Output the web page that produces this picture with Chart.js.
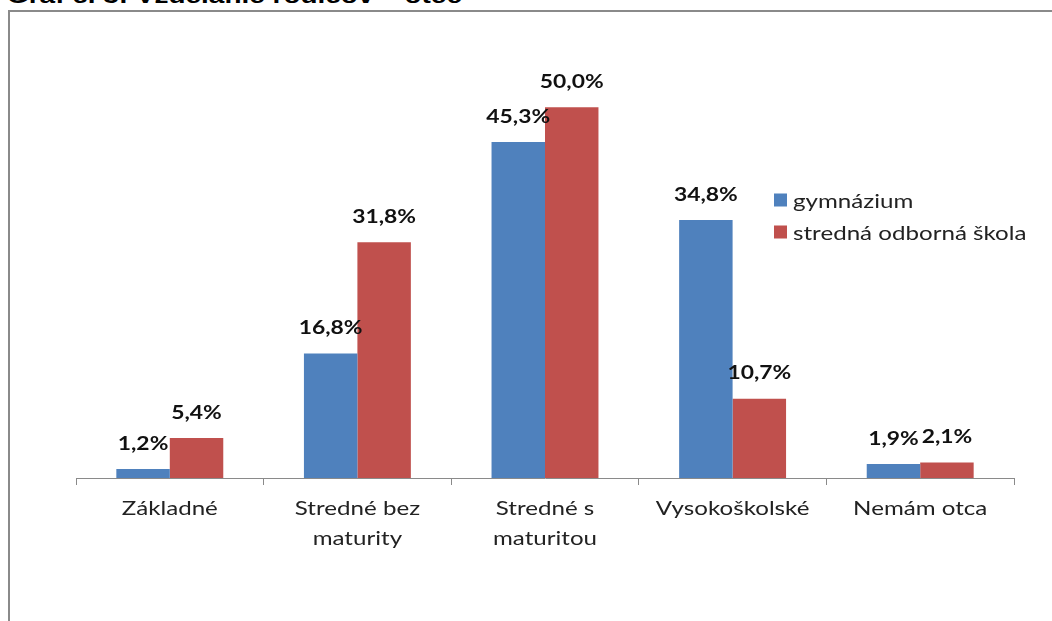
<!DOCTYPE html>
<html>
<head>
<meta charset="utf-8">
<script src="https://cdn.jsdelivr.net/npm/chart.js@4"></script>
<style>
  body { margin: 0; background: #fff; overflow: hidden; }
  #wrap { position: relative; width: 1052px; height: 621px; }
  #titre {
    position: absolute; left: 7px; top: -17px;
    font: bold 22px "Liberation Sans", Arial, sans-serif; color: #000;
    white-space: nowrap; transform: scaleX(1.27); transform-origin: 0 0;
  }
  #cadre {
    position: absolute; left: 8px; top: 10px; width: 1060px; height: 640px;
    border: 2px solid #8a8a8a; box-sizing: border-box;
  }
  canvas { position: absolute; left: 0; top: 0; }
</style>
</head>
<body>
<div id="wrap">
  <div id="titre">Graf č. 3: Vzdelanie rodičov – otec</div>
  <div id="cadre"></div>
  <canvas id="graf" width="1052" height="621"></canvas>
</div>
<script>
// Données
const categories = [["Základné"], ["Stredné bez", "maturity"], ["Stredné s", "maturitou"], ["Vysokoškolské"], ["Nemám otca"]];
const gymnazium = [1.2, 16.8, 45.3, 34.8, 1.9];
const strednaOdborna = [5.4, 31.8, 50.0, 10.7, 2.1];
const series = ["gymnázium", "stredná odborná škola"];
const couleurs = ["#4F81BD", "#C0504D"];

const police = '"Lato", "Open Sans", sans-serif';
const etirement = 1.27; // le texte de l'original est étiré horizontalement

// texte étiré horizontalement autour du point (x, y)
function texteEtire(ctx, txt, x, y, align) {
  ctx.save();
  ctx.translate(x, y);
  ctx.scale(etirement, 1);
  ctx.textAlign = align;
  ctx.fillText(txt, 0, 0);
  ctx.restore();
}

// Étiquettes de valeur au-dessus des barres
const etiquettes = {
  id: "etiquettes",
  afterDatasetsDraw(chart) {
    const ctx = chart.ctx;
    ctx.save();
    ctx.font = "bold 18px " + police;
    ctx.fillStyle = "#111";
    ctx.textBaseline = "bottom";
    chart.data.datasets.forEach((ds, i) => {
      chart.getDatasetMeta(i).data.forEach((bar, j) => {
        const txt = ds.data[j].toFixed(1).replace(".", ",") + "%";
        texteEtire(ctx, txt, bar.x, bar.y - 16, "center");
      });
    });
    ctx.restore();
  }
};

// Libellés des catégories sous l'axe
const libelles = {
  id: "libelles",
  afterDraw(chart) {
    const ctx = chart.ctx;
    const x = chart.scales.x;
    ctx.save();
    ctx.font = "19px " + police;
    ctx.fillStyle = "#222";
    ctx.textBaseline = "middle";
    chart.data.labels.forEach((lignes, i) => {
      const px = x.getPixelForValue(i);
      lignes.forEach((l, k) => texteEtire(ctx, l, px, x.top + 31 + k * 30, "center"));
    });
    ctx.restore();
  }
};

// Légende placée à droite, par-dessus la zone du graphique
const legende = {
  id: "legende",
  afterDraw(chart) {
    const ctx = chart.ctx;
    ctx.save();
    ctx.font = "19px " + police;
    ctx.textBaseline = "middle";
    chart.data.datasets.forEach((ds, i) => {
      const y = 200 + i * 32;
      ctx.fillStyle = ds.backgroundColor;
      ctx.fillRect(774, y - 6.5, 13, 13);
      ctx.fillStyle = "#222";
      texteEtire(ctx, ds.label, 793, y + 2, "left");
    });
    ctx.restore();
  }
};

new Chart(document.getElementById("graf"), {
  type: "bar",
  data: {
    labels: categories,
    datasets: [
      { label: series[0], data: gymnazium, backgroundColor: couleurs[0] },
      { label: series[1], data: strednaOdborna, backgroundColor: couleurs[1] }
    ]
  },
  options: {
    responsive: false,
    animation: false,
    categoryPercentage: 0.57,
    barPercentage: 1,
    layout: { padding: { left: 76, right: 38, top: 33, bottom: 0 } },
    plugins: {
      legend: { display: false },
      tooltip: { enabled: false }
    },
    scales: {
      y: { display: false, min: 0, max: 60 },
      x: {
        afterFit(scale) { scale.height = 143; },
        grid: { offset: true, drawOnChartArea: false, tickLength: 7, color: "#8a8a8a" },
        border: { color: "#8a8a8a", width: 1 },
        ticks: { color: "rgba(0,0,0,0)", font: { size: 19 }, maxRotation: 0 }
      }
    }
  },
  plugins: [etiquettes, libelles, legende]
});
</script>
</body>
</html>
